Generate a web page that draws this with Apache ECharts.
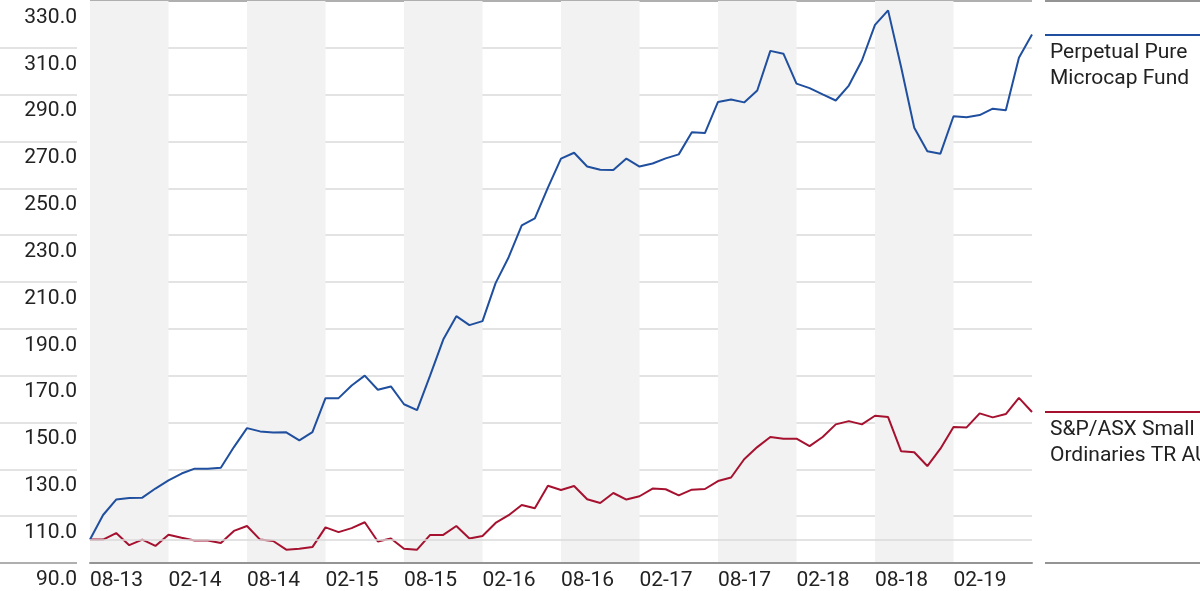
<!DOCTYPE html>
<html>
<head>
<meta charset="utf-8">
<script src="https://cdn.jsdelivr.net/npm/echarts@6/dist/echarts.min.js"></script>
<style>
html,body{margin:0;padding:0;background:#fff;}
#chart{width:1200px;height:591px;}
</style>
</head>
<body>
<div id="chart"></div>
<script>
// ---- data ----
const categories = [
  "08-13","09-13","10-13","11-13","12-13","01-14","02-14","03-14","04-14","05-14","06-14","07-14",
  "08-14","09-14","10-14","11-14","12-14","01-15","02-15","03-15","04-15","05-15","06-15","07-15",
  "08-15","09-15","10-15","11-15","12-15","01-16","02-16","03-16","04-16","05-16","06-16","07-16",
  "08-16","09-16","10-16","11-16","12-16","01-17","02-17","03-17","04-17","05-17","06-17","07-17",
  "08-17","09-17","10-17","11-17","12-17","01-18","02-18","03-18","04-18","05-18","06-18","07-18",
  "08-18","09-18","10-18","11-18","12-18","01-19","02-19","03-19","04-19","05-19","06-19","07-19",
  "08-19"
];
const fundName = "Perpetual Pure\nMicrocap Fund";
const indexName = "S&P/ASX Small\nOrdinaries TR AUD";
const fundValues = [
  100, 110.5, 117.1, 117.8, 117.9, 121.8, 125.3, 128.2, 130.3, 130.3, 130.7, 139.5,
  147.6, 146.2, 145.7, 145.8, 142.4, 145.9, 160.4, 160.4, 165.8, 170.0, 164.0, 165.4,
  157.8, 155.3, 170.1, 185.4, 195.4, 191.6, 193.3, 209.5, 220.6, 234.2, 237.2, 250.3,
  262.7, 265.2, 259.3, 257.9, 257.8, 262.7, 259.3, 260.6, 262.8, 264.5, 274.0, 273.6,
  286.9, 287.9, 286.7, 291.8, 308.7, 307.5, 294.7, 292.8, 290.1, 287.5, 293.9, 304.6,
  319.8, 326.0, 301.7, 275.9, 265.8, 264.8, 280.8, 280.4, 281.3, 284.0, 283.3, 305.8,
  315.7
];
const indexValues = [
  100, 100, 102.8, 97.6, 100, 97.3, 102.1, 100.8, 99.6, 99.6, 98.5, 103.7,
  105.8, 100, 99.4, 95.7, 96.1, 96.8, 105.2, 103.2, 104.9, 107.4, 99.2, 100.5,
  96.1, 95.7, 102.0, 102.0, 105.8, 100.5, 101.5, 107.1, 110.4, 114.8, 113.4, 123.0,
  121.2, 122.9, 117.2, 115.6, 119.9, 117.1, 118.5, 121.8, 121.5, 118.9, 121.3, 121.6,
  125.0, 126.5, 134.3, 139.5, 143.8, 143.1, 143.1, 139.9, 143.8, 149.2, 150.6, 149.2,
  152.9, 152.3, 137.7, 137.3, 131.4, 138.8, 148.1, 147.9, 153.9, 152.2, 153.6, 160.5,
  154.5
];
const baseValue = 100;
const yMin = 90, yMax = 330, yStep = 20;

// ---- styles ----
const FONT = "Roboto, 'DejaVu Sans Condensed', sans-serif";
const FS = 21;
const BLUE = '#1f4f9e';
const RED = '#a5112f';
const GRID = '#dadada';
const DARK = '#949494';
const TEXT = '#222';
const nLines = (yMax - yMin) / yStep + 1;
const mainLineColors = [], leftLineColors = [], rightLineColors = [];
for (let k = 0; k < nLines; k++) {
  const isBottom = k === 0, isTop = k === nLines - 1;
  mainLineColors.push(isBottom || isTop ? DARK : GRID);
  leftLineColors.push(isBottom ? DARK : (isTop ? 'rgba(0,0,0,0)' : GRID));
  rightLineColors.push(isBottom || isTop ? DARK : 'rgba(0,0,0,0)');
}
const last = categories.length - 1;

const chart = echarts.init(document.getElementById('chart'), null, {renderer: 'canvas'});
const option = {
  animation: false,
  textStyle: {fontFamily: FONT},
  grid: [
    {left: 90, width: 942, top: 1, height: 562},
    {left: 0, width: 77, top: 1, height: 562},
    {left: 1045, width: 155, top: 1, height: 562}
  ],
  xAxis: [
    {
      type: 'category', gridIndex: 0, data: categories, boundaryGap: false,
      axisLine: {show: true, lineStyle: {color: DARK, width: 2}},
      axisTick: {show: false},
      axisLabel: {
        interval: (i) => i % 6 === 0 && i < last,
        align: 'left', margin: 7, fontSize: FS, color: TEXT, fontFamily: FONT
      },
      splitLine: {show: false},
      splitArea: {show: true, interval: 5, areaStyle: {color: ['#f2f2f2', 'rgba(255,255,255,0)']}}
    },
    {type: 'value', gridIndex: 1, show: false, min: 0, max: 1},
    {type: 'value', gridIndex: 2, show: false, min: 0, max: 1}
  ],
  yAxis: [
    {
      type: 'value', gridIndex: 0, min: yMin, max: yMax, interval: yStep,
      axisLine: {show: false}, axisTick: {show: false},
      axisLabel: {
        margin: 13, fontSize: FS, color: TEXT, fontFamily: FONT,
        verticalAlign: 'top', padding: [6, 0, 0, 0],
        formatter: (v) => v.toFixed(1)
      },
      splitLine: {show: true, lineStyle: {color: mainLineColors, width: 1.5}}
    },
    {
      type: 'value', gridIndex: 1, min: yMin, max: yMax, interval: yStep,
      axisLine: {show: false}, axisTick: {show: false}, axisLabel: {show: false},
      splitLine: {show: true, lineStyle: {color: leftLineColors, width: 1.5}}
    },
    {
      type: 'value', gridIndex: 2, min: yMin, max: yMax, interval: yStep,
      axisLine: {show: false}, axisTick: {show: false}, axisLabel: {show: false},
      splitLine: {show: true, lineStyle: {color: rightLineColors, width: 2}}
    }
  ],
  series: [
    {
      name: 'baseline', type: 'line', xAxisIndex: 0, yAxisIndex: 0, data: [],
      markLine: {
        silent: true, symbol: 'none', label: {show: false},
        lineStyle: {color: GRID, width: 1.5, type: 'solid'},
        data: [{yAxis: baseValue}]
      }
    },
    {
      name: fundName, type: 'line', xAxisIndex: 0, yAxisIndex: 0, data: fundValues,
      symbol: 'none', lineStyle: {color: BLUE, width: 2}, itemStyle: {color: BLUE}, z: 4
    },
    {
      name: indexName, type: 'line', xAxisIndex: 0, yAxisIndex: 0, data: indexValues,
      symbol: 'none', lineStyle: {color: RED, width: 2}, itemStyle: {color: RED}, z: 3
    },
    {
      name: 'legend', type: 'line', xAxisIndex: 2, yAxisIndex: 2, data: [],
      markLine: {
        silent: true, symbol: 'none',
        label: {
          show: true, position: 'insideStartBottom', distance: 5,
          fontSize: FS, lineHeight: 26, color: TEXT, fontFamily: FONT,
          padding: [0, 0, 0, 0]
        },
        data: [
          {yAxis: fundValues[last], lineStyle: {color: BLUE, width: 2, type: 'solid'}, label: {formatter: fundName}},
          {yAxis: indexValues[last], lineStyle: {color: RED, width: 2, type: 'solid'}, label: {formatter: indexName}}
        ]
      }
    }
  ]
};
chart.setOption(option);
</script>
</body>
</html>
